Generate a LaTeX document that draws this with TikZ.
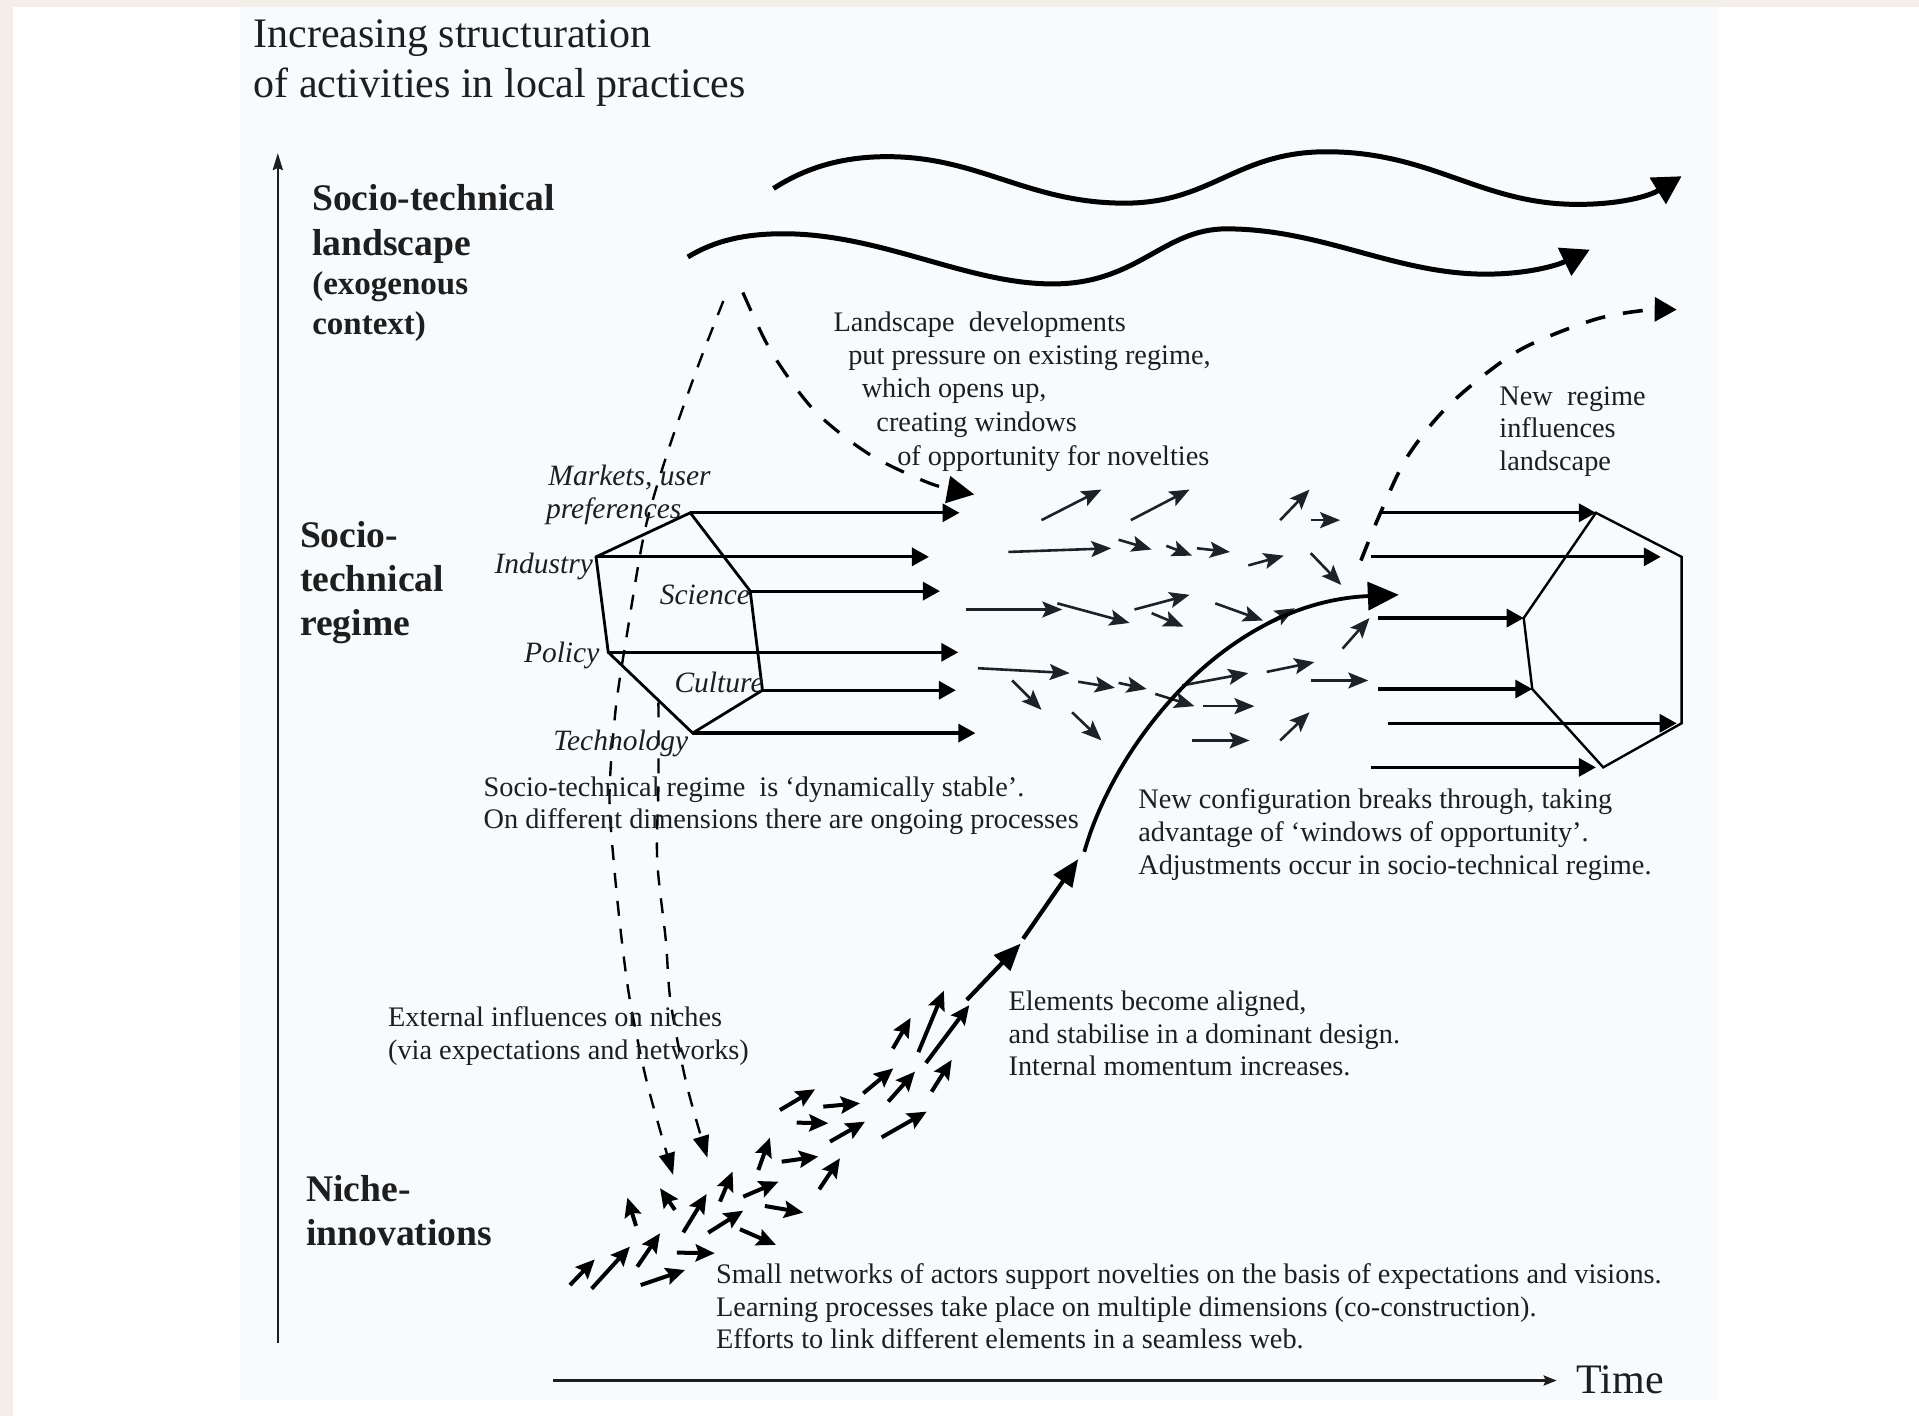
\documentclass[tikz,border=0pt]{standalone}
\usepackage{fontspec}
\setmainfont{Liberation Serif}
\usetikzlibrary{arrows.meta}
\definecolor{beige}{HTML}{F3EFE8}
\definecolor{panel}{HTML}{F7FBFD}
\definecolor{ink}{HTML}{1E1E1E}
\definecolor{arrowink}{HTML}{1B2328}
\tikzset{
  txt/.style={inner sep=0pt, anchor=base west, text=ink, font=\fontsize{28.3pt}{34pt}\selectfont},
  ttl/.style={inner sep=0pt, anchor=base west, text=ink, font=\fontsize{42pt}{50pt}\selectfont},
  lvl/.style={inner sep=0pt, anchor=base west, text=ink, font=\fontsize{37.6pt}{45pt}\selectfont\bfseries},
  sublvl/.style={inner sep=0pt, anchor=base west, text=ink, font=\fontsize{33pt}{40pt}\selectfont\bfseries},
  dim/.style={inner sep=0pt, anchor=base west, text=ink, font=\fontsize{29.5pt}{35pt}\selectfont\itshape},
  axis/.style={line width=2.6pt, draw=ink, -{Stealth[length=17pt,width=10pt,inset=2pt]}},
  wave/.style={line width=5pt, -{Triangle[length=28pt,width=30pt]}},
  hexline/.style={line width=2.8pt, line join=miter},
  hexarrow/.style={line width=3.2pt, -{Triangle[length=17pt,width=18pt]}},
  smallarrow/.style={line width=2.6pt, draw=arrowink, -{Stealth[length=20pt,width=16pt,inset=4pt]}},
  nichearrow/.style={line width=4pt, -{Stealth[length=19pt,width=17pt,inset=3pt]}},
  stem/.style={line width=4.2pt, -{Triangle[length=27pt,width=22pt]}},
  bigcurve/.style={line width=3.8pt, -{Triangle[length=31pt,width=28pt]}},
  pressure/.style={line width=3.2pt, dash pattern=on 20pt off 18pt, -{Triangle[length=27pt,width=27pt]}},
  external/.style={line width=2.4pt, dash pattern=on 15pt off 13pt, -{Triangle[length=22pt,width=16pt]}},
  feedback/.style={line width=3.6pt, dash pattern=on 20pt off 18pt, -{Triangle[length=22pt,width=24pt]}}
}
\begin{document}
\begin{tikzpicture}[x=1.2239pt,y=-1.2239pt]
\useasboundingbox (0,0) rectangle (1568,1157);
\fill[beige] (0,0) rectangle (1568,1157);
\fill[white] (10.6,5.7) rectangle (1568,1157);
\fill[panel] (196,5.7) rectangle (1403.7,1144);

% title
\node[ttl] (title1) at (207,39) {Increasing structuration};
\node[ttl] (title2) at (207,80) {of activities in local practices};

% axes
\coordinate (yBot) at (227,1097);
\coordinate (yTop) at (227,125);
\draw[axis] (yBot) -- (yTop);
\coordinate (tStart) at (452,1128);
\coordinate (tEnd) at (1272,1128);
\draw[axis, line width=3pt, -{Stealth[length=13pt,width=10pt,inset=2pt]}] (tStart) -- (tEnd);
\node[ttl] (time) at (1288,1139) {Time};

% level labels
\node[lvl] (land1) at (255,172) {Socio-technical};
\node[lvl] (land2) at (255,209) {landscape};
\node[sublvl] (land3) at (255,241) {(exogenous};
\node[sublvl] (land4) at (255,273) {context)};
\node[lvl] (reg1) at (245,447) {Socio-};
\node[lvl] (reg2) at (245,483) {technical};
\node[lvl] (reg3) at (245,519) {regime};
\node[lvl] (nic1) at (250,982) {Niche-};
\node[lvl] (nic2) at (250,1018) {innovations};

% landscape waves
\coordinate (w1s) at (632,154);
\coordinate (w1e) at (1374,144);
\draw[wave] (w1s) .. controls (660,136) and (690,128) .. (725,128)
  .. controls (800,128) and (840,166) .. (919,166)
  .. controls (990,166) and (1010,124) .. (1084,124)
  .. controls (1170,124) and (1210,167) .. (1289,167)
  .. controls (1325,167) and (1348,160) .. (w1e);
\coordinate (w2s) at (562,210);
\coordinate (w2e) at (1299,204);
\draw[wave] (w2s) .. controls (585,196) and (610,191) .. (640,191)
  .. controls (720,191) and (790,232) .. (860,232)
  .. controls (930,232) and (950,187) .. (1002,187)
  .. controls (1080,187) and (1140,224) .. (1214,224)
  .. controls (1248,224) and (1272,217) .. (w2e);

% landscape text
\node[txt] (lt1) at (681,270.6) {Landscape\ \ developments};
\node[txt] (lt2) at (693,297.6) {put pressure on existing regime,};
\node[txt] (lt3) at (704,324.6) {which opens up,};
\node[txt] (lt4) at (716,352.6) {creating windows};
\node[txt] (lt5) at (733,380.6) {of opportunity for novelties};

% dashed pressure lines from landscape
\coordinate (apexL) at (591,246);
\coordinate (apexR) at (607,239);
\coordinate (pressTip) at (796,404);
\coordinate (nicheA) at (550,960);
\coordinate (nicheB) at (578,946);
\coordinate (bStart) at (538,574);
\draw[pressure] plot[smooth] coordinates {(apexR) (630,287) (665,335) (710,371) (760,395) (pressTip)};
\draw[external] plot[smooth] coordinates {(apexL) (570,300) (546,368) (527,433) (512,520) (503,580) (498,650) (502,710) (508,768) (515,819) (529,886) (nicheA)};
\draw[external] plot[smooth] coordinates {(bStart) (538,640) (537,703) (544,768) (548,819) (561,886) (nicheB)};

% old regime hexagon
\coordinate (hT) at (564,419);
\coordinate (hS) at (613,483);
\coordinate (hC) at (623,564);
\coordinate (hB) at (566,599);
\coordinate (hP) at (497,533);
\coordinate (hI) at (487,455);
\draw[hexline] (hT) -- (hS) -- (hC) -- (hB) -- (hP) -- (hI) -- cycle;
\coordinate (tT) at (784,419);
\coordinate (tI) at (759,455);
\coordinate (tS) at (768,483);
\coordinate (tP) at (783,533);
\coordinate (tC) at (781,564);
\coordinate (tB) at (797,599);
\draw[hexarrow] (hT) -- (tT);
\draw[hexarrow] (hI) -- (tI);
\draw[hexarrow] (hS) -- (tS);
\draw[hexarrow] (hP) -- (tP);
\draw[hexarrow] (hC) -- (tC);
\draw[hexarrow] (hB) -- (tB);

\node[dim] (dm1) at (448,397) {Markets, user};
\node[dim] (dm2) at (446,424) {preferences};
\node[dim] (dind) at (404,469) {Industry};
\node[dim] (dsci) at (539,494) {Science};
\node[dim] (dpol) at (428,541) {Policy};
\node[dim] (dcul) at (551,566) {Culture};
\node[dim] (dtec) at (452,613) {Technology};

\node[txt] (st1) at (395,650.6) {Socio-technical regime\ \ is ‘dynamically stable’.};
\node[txt] (st2) at (395,676.6) {On different dimensions there are ongoing processes};

% small arrows in regime
\foreach \xa/\ya/\xb/\yb in {851/425/900/400, 924/425/972/400, 1046/425/1070/400, 1071/425/1095/425,
  824/451/908/448, 914/441/941/449, 953/446/974/454, 978/448/1005/451, 1020/462/1049/454, 1071/452/1096/478,
  789/498/868/498, 864/493/923/509, 927/498/972/486, 941/501/967/512, 993/493/1032/507, 1097/530/1119/505,
  799/546/874/550, 827/556/851/580, 881/557/911/562, 914/558/937/563, 944/567/976/577, 876/582/900/605,
  966/560/1020/550, 983/577/1025/577, 1035/549/1074/541, 1071/556/1118/556, 974/605/1021/605, 1046/605/1070/582,
  1036/509/1058/497}
  \draw[smallarrow] (\xa,\ya) -- (\xb,\yb);

% niche arrows
\foreach \xa/\ya/\xb/\yb in {465.7/1050/486/1029, 483.4/1053/514.7/1018.6, 520.7/1035/539.3/1007.7,
  523.5/1050/559.7/1037.7, 553/1023.5/584/1024, 519.7/1001.7/512.6/978.6, 551.5/988.6/539.3/970.9,
  558.3/1007/577.4/975.6, 578.7/1007.2/607.3/989.2, 604.6/1004.4/634/1017.2, 588.3/981.8/598.6/957.3,
  607.3/977.8/636/965.5, 625/985.4/656.4/990.8, 619.6/956/629.1/929.6, 638.7/949.2/668.6/945,
  669.4/971.8/686.3/946.4, 637.3/907/666/890, 651/917.3/676.8/917.8, 672.7/904.2/702.7/901.5,
  678.2/932.8/706.8/916.5, 720.4/929.3/757.2/908.3, 705.4/893.3/729.9/872.9, 725.8/900.1/747.6/875.6,
  761.2/892/777.6/866, 729.5/856.8/744.1/831.7, 750.4/859.7/771.2/809.5, 756.6/868.5/792/821.3}
  \draw[nichearrow] (\xa,\ya) -- (\xb,\yb);

% breakthrough trajectory
\coordinate (s1a) at (790,817);
\coordinate (s1b) at (834,771);
\coordinate (s2a) at (836,767);
\coordinate (s2b) at (881,702);
\coordinate (bcS) at (886,696);
\coordinate (bcE) at (1143,486);
\draw[stem] (s1a) -- (s1b);
\draw[stem] (s2a) -- (s2b);
\draw[bigcurve] (bcS) .. controls (910,610) and (1000,492) .. (bcE);

% new regime hexagon
\coordinate (rT) at (1304,419);
\coordinate (rR1) at (1374,455);
\coordinate (rR2) at (1374,591);
\coordinate (rB) at (1310,627);
\coordinate (rL2) at (1252,563);
\coordinate (rL1) at (1245,505);
\draw[hexline, line width=2.4pt] (rT) -- (rR1) -- (rR2) -- (rB) -- (rL2) -- (rL1) -- cycle;
\coordinate (a1) at (1128,419);
\coordinate (a2) at (1120,455);
\coordinate (a2e) at (1357,455);
\coordinate (a3) at (1126,505);
\coordinate (a4) at (1126,563);
\coordinate (a5) at (1134,591);
\coordinate (a5e) at (1370,591);
\coordinate (a6) at (1120,627);
\coordinate (a6e) at (1304,627);
\draw[hexarrow] (a1) -- (rT);
\draw[hexarrow] (a2) -- (a2e);
\draw[hexarrow] (a3) -- (rL1);
\draw[hexarrow] (a4) -- (rL2);
\draw[hexarrow] (a5) -- (a5e);
\draw[hexarrow] (a6) -- (a6e);

% feedback to landscape
\coordinate (fbS) at (1112,458);
\coordinate (fbE) at (1370,253);
\draw[feedback] plot[smooth] coordinates {(fbS) (a1) (1150,373) (1185,330) (1240,287) (1300,262) (1340,254) (fbE)};

\node[txt] (nr1) at (1225,331.6) {New\ \ regime};
\node[txt] (nr2) at (1225,357.6) {influences};
\node[txt] (nr3) at (1225,384.6) {landscape};

\node[txt] (nc1) at (930,660.6) {New configuration breaks through, taking};
\node[txt] (nc2) at (930,687.6) {advantage of ‘windows of opportunity’.};
\node[txt] (nc3) at (930,714.6) {Adjustments occur in socio-technical regime.};

\node[txt] (el1) at (824,825.6) {Elements become aligned,};
\node[txt] (el2) at (824,852.6) {and stabilise in a dominant design.};
\node[txt] (el3) at (824,878.6) {Internal momentum increases.};

\node[txt] (ex1) at (317,838.6) {External influences on niches};
\node[txt] (ex2) at (317,865.6) {(via expectations and networks)};

\node[txt] (sn1) at (585,1048.6) {Small networks of actors support novelties on the basis of expectations and visions.};
\node[txt] (sn2) at (585,1075.6) {Learning processes take place on multiple dimensions (co-construction).};
\node[txt] (sn3) at (585,1101.6) {Efforts to link different elements in a seamless web.};
\end{tikzpicture}
\end{document}
